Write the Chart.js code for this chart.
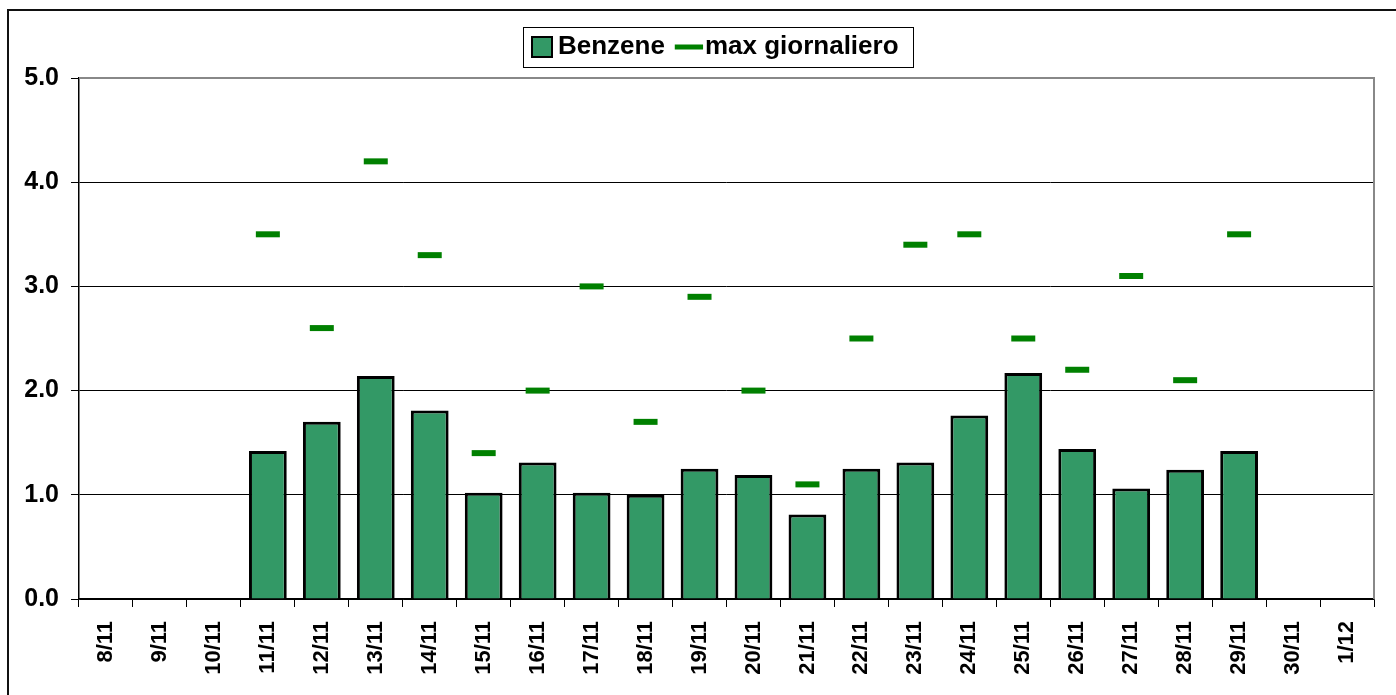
<!DOCTYPE html>
<html>
<head>
<meta charset="utf-8">
<script src="https://cdn.jsdelivr.net/npm/chart.js@4.4.0/dist/chart.umd.min.js"></script>
<style>
  html, body { margin: 0; padding: 0; background: #fff; }
  #wrap { width: 1396px; height: 695px; }
</style>
</head>
<body>
<div id="wrap"><canvas id="benzeneChart" width="1396" height="695"></canvas></div>
<script>
// daily benzene values
const days = ['8/11', '9/11', '10/11', '11/11', '12/11', '13/11', '14/11', '15/11', '16/11', '17/11', '18/11', '19/11',
  '20/11', '21/11', '22/11', '23/11', '24/11', '25/11', '26/11', '27/11', '28/11', '29/11', '30/11', '1/12'];
const benzene = [null, null, null, 1.42, 1.70, 2.14, 1.81, 1.02, 1.31, 1.02, 1.00, 1.25,
  1.19, 0.81, 1.25, 1.31, 1.76, 2.17, 1.44, 1.06, 1.24, 1.42, null, null];
const maxDaily = [null, null, null, 3.5, 2.6, 4.2, 3.3, 1.4, 2.0, 3.0, 1.7, 2.9,
  2.0, 1.1, 2.5, 3.4, 3.5, 2.5, 2.2, 3.1, 2.1, 3.5, null, null];
const yTicks = [0, 1, 2, 3, 4, 5];

const FONT = "'Liberation Sans', Arial, sans-serif";

// legend takes no layout room; it is placed by hand above the plot with a frame
const frames = {
  id: 'frames',
  beforeLayout(chart) {
    const l = chart.legend;
    if (l && !l._fixed) {
      const fit = l.fit;
      l.fit = function () { fit.call(this); this.height = 0; };
      l._fixed = true;
    }
  },
  afterLayout(chart) {
    const l = chart.legend;
    if (!l.lineWidths) return;
    const pad = l.options.labels.padding;
    const start = (l.left + pad + l.right - l.lineWidths[0]) / 2;
    const dx = 539 - start;
    l.left += dx; l.right += dx;
    l.top = 34 - pad;
    l.bottom = l.top + 70;
  },
  afterDraw(chart) {
    const ctx = chart.ctx;
    const a = chart.chartArea;
    ctx.save();
    // legend frame
    ctx.strokeStyle = '#000';
    ctx.lineWidth = 1;
    ctx.strokeRect(523.5, 27.5, 390, 40);
    // plot top / right border
    ctx.strokeStyle = '#888';
    ctx.lineWidth = 2;
    ctx.beginPath();
    ctx.moveTo(a.left, a.top);
    ctx.lineTo(a.right, a.top);
    ctx.lineTo(a.right, a.bottom);
    ctx.stroke();
    // outer frame
    ctx.strokeStyle = '#111';
    ctx.lineWidth = 2;
    ctx.beginPath();
    ctx.moveTo(8, 700);
    ctx.lineTo(8, 10);
    ctx.lineTo(1400, 10);
    ctx.stroke();
    ctx.restore();
  }
};

const chart = new Chart(document.getElementById('benzeneChart').getContext('2d'), {
  type: 'bar',
  data: {
    labels: days,
    datasets: [
      {
        type: 'line', label: 'max giornaliero', data: maxDaily,
        showLine: false, pointStyle: 'line', pointRadius: 12, pointHoverRadius: 12,
        borderColor: '#008000', backgroundColor: '#008000', borderWidth: 6, pointBorderWidth: 6,
        order: 0
      },
      {
        label: 'Benzene', data: benzene,
        backgroundColor: '#339966', borderColor: '#000', borderWidth: 3,
        barPercentage: 0.7, categoryPercentage: 1, pointStyle: 'rect',
        order: 1
      }
    ]
  },
  options: {
    responsive: false,
    animation: false,
    events: [],
    layout: { padding: { top: 78, right: 22, left: 0, bottom: 0 } },
    plugins: {
      tooltip: { enabled: false },
      legend: {
        position: 'top',
        reverse: true,
        labels: {
          usePointStyle: true, boxWidth: 6, boxHeight: 20, padding: 21, color: '#000',
          font: { family: FONT, size: 26, weight: 'bold' },
          generateLabels(c) {
            const items = Chart.defaults.plugins.legend.labels.generateLabels(c);
            items.forEach(it => { it.lineWidth = it.text === 'Benzene' ? 2 : 5; });
            return items;
          }
        }
      }
    },
    scales: {
      x: {
        grid: { drawOnChartArea: false, drawTicks: true, tickLength: 8, tickColor: '#000', offset: true },
        border: { color: '#000', width: 1.5 },
        ticks: {
          autoSkip: false, minRotation: 90, maxRotation: 90, padding: 14, color: '#000',
          font: { family: FONT, size: 22, weight: 'bold' }
        },
        afterFit(s) { s.height = 96; }
      },
      y: {
        min: 0, max: 5,
        afterBuildTicks(s) { s.ticks = yTicks.map(v => ({ value: v })); },
        grid: { color: '#000', lineWidth: 1, tickLength: 8, tickColor: '#000' },
        border: { color: '#000', width: 1.5 },
        ticks: {
          padding: 12, color: '#000',
          font: { family: FONT, size: 25, weight: 'bold' },
          callback: v => Number(v).toFixed(1)
        },
        afterFit(s) { s.width = 79; }
      }
    }
  },
  plugins: [frames]
});
</script>
</body>
</html>
